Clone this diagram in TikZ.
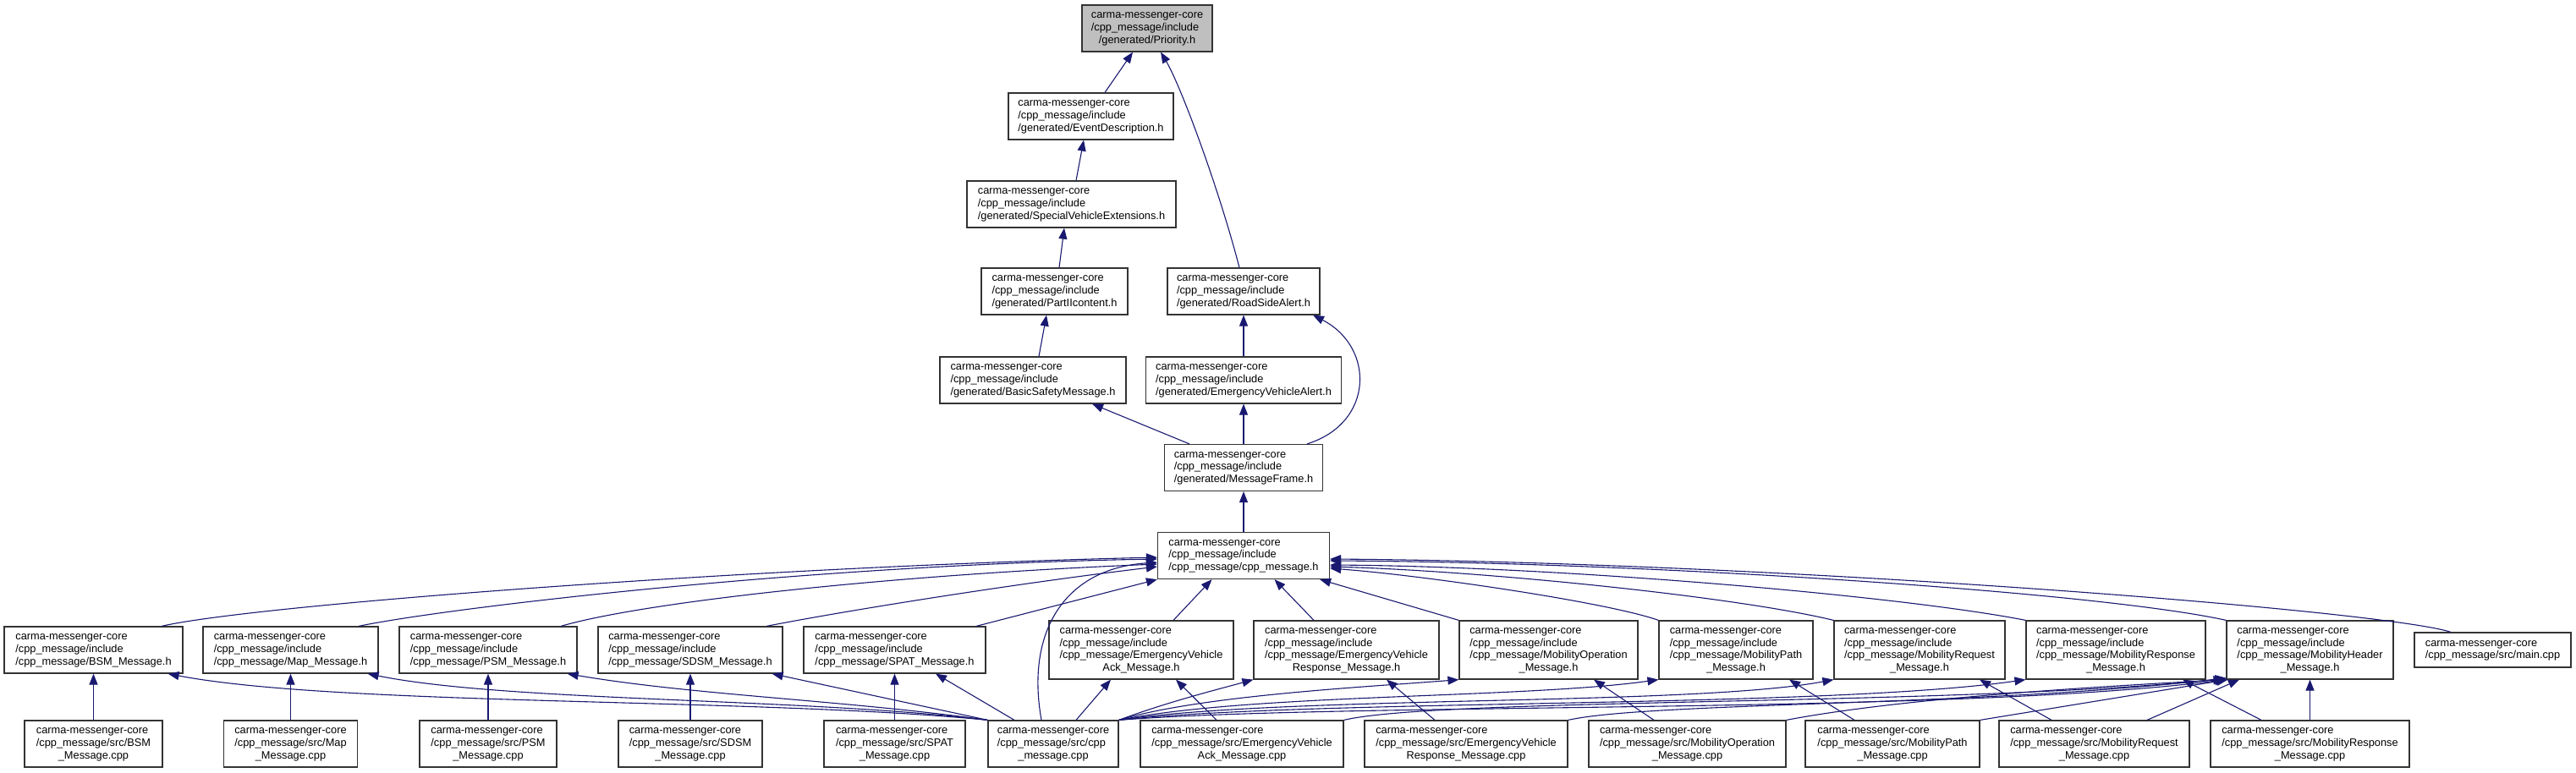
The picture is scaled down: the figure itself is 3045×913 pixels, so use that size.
\documentclass[tikz,border=0pt]{standalone}
\usepackage{fontspec}
\setmainfont{Liberation Sans}
\definecolor{DoxBlue}{RGB}{25,25,112}
\definecolor{DoxGray}{RGB}{191,191,191}
\usetikzlibrary{arrows.meta}
\newcommand{\flbl}[2]{\begin{tabular}{@{}l@{}}#1\\\multicolumn{1}{@{}c@{}}{#2}\end{tabular}}

\begin{document}
\begin{tikzpicture}[x=1pt, y=-1pt,
        file/.style={draw=black!80, fill=white, line width=1.2pt, inner sep=2pt,
                     minimum height=55pt, font=\fontsize{12.8}{14.7}\selectfont},
        tall/.style={file, minimum height=69pt},
        arr/.style={-{Triangle[length=13pt,width=10pt]}, DoxBlue, line width=1.1pt}
      ]
        \useasboundingbox (0,0) rectangle (3045,913);

        \node[file, fill=DoxGray, minimum width=154pt] (priority) at (1356,33.5)
          {\flbl{carma-messenger-core\\/cpp\_message/include}{/generated/Priority.h}};
        \node[file, minimum width=195pt] (evdesc) at (1289.5,137.5)
          {\flbl{carma-messenger-core\\/cpp\_message/include}{/generated/EventDescription.h}};
        \node[file, minimum width=247pt] (specveh) at (1266.5,241.5)
          {\flbl{carma-messenger-core\\/cpp\_message/include}{/generated/SpecialVehicleExtensions.h}};
        \node[file, minimum width=173pt] (partii) at (1246.5,344.5)
          {\flbl{carma-messenger-core\\/cpp\_message/include}{/generated/PartIIcontent.h}};
        \node[file, minimum width=180pt] (rsalert) at (1470,344.5)
          {\flbl{carma-messenger-core\\/cpp\_message/include}{/generated/RoadSideAlert.h}};
        \node[file, minimum width=220pt] (bsafety) at (1221,449.5)
          {\flbl{carma-messenger-core\\/cpp\_message/include}{/generated/BasicSafetyMessage.h}};
        \node[file, minimum width=231pt] (evalert) at (1470,449.5)
          {\flbl{carma-messenger-core\\/cpp\_message/include}{/generated/EmergencyVehicleAlert.h}};
        \node[file, minimum width=187pt] (msgframe) at (1470,553)
          {\flbl{carma-messenger-core\\/cpp\_message/include}{/generated/MessageFrame.h}};
        \node[file, minimum width=203pt] (cpph) at (1470,657)
          {\flbl{carma-messenger-core\\/cpp\_message/include}{/cpp\_message/cpp\_message.h}};

        \node[file, minimum width=211pt] (bsmh) at (110.5,768.5)
          {\flbl{carma-messenger-core\\/cpp\_message/include}{/cpp\_message/BSM\_Message.h}};
        \node[file, minimum width=207pt] (maph) at (343.5,768.5)
          {\flbl{carma-messenger-core\\/cpp\_message/include}{/cpp\_message/Map\_Message.h}};
        \node[file, minimum width=210pt] (psmh) at (577,768.5)
          {\flbl{carma-messenger-core\\/cpp\_message/include}{/cpp\_message/PSM\_Message.h}};
        \node[file, minimum width=218pt] (sdsmh) at (816,768.5)
          {\flbl{carma-messenger-core\\/cpp\_message/include}{/cpp\_message/SDSM\_Message.h}};
        \node[file, minimum width=215pt] (spath) at (1057.5,768.5)
          {\flbl{carma-messenger-core\\/cpp\_message/include}{/cpp\_message/SPAT\_Message.h}};
        \node[tall, minimum width=218pt] (evackh) at (1349,768.5)
          {\flbl{carma-messenger-core\\/cpp\_message/include\\/cpp\_message/EmergencyVehicle}{Ack\_Message.h}};
        \node[tall, minimum width=219pt] (evresph) at (1591.5,768.5)
          {\flbl{carma-messenger-core\\/cpp\_message/include\\/cpp\_message/EmergencyVehicle}{Response\_Message.h}};
        \node[tall, minimum width=211pt] (mobeoph) at (1830.5,768.5)
          {\flbl{carma-messenger-core\\/cpp\_message/include\\/cpp\_message/MobilityOperation}{\_Message.h}};
        \node[tall, minimum width=182pt] (mobpathh) at (2052,768.5)
          {\flbl{carma-messenger-core\\/cpp\_message/include\\/cpp\_message/MobilityPath}{\_Message.h}};
        \node[tall, minimum width=202pt] (mobreqh) at (2269,768.5)
          {\flbl{carma-messenger-core\\/cpp\_message/include\\/cpp\_message/MobilityRequest}{\_Message.h}};
        \node[tall, minimum width=212pt] (mobresph) at (2501,768.5)
          {\flbl{carma-messenger-core\\/cpp\_message/include\\/cpp\_message/MobilityResponse}{\_Message.h}};
        \node[tall, minimum width=197pt] (mobhdrh) at (2730.5,768.5)
          {\flbl{carma-messenger-core\\/cpp\_message/include\\/cpp\_message/MobilityHeader}{\_Message.h}};
        \node[file, minimum width=185pt, minimum height=41pt] (maincpp) at (2946.5,768.5)
          {\flbl{carma-messenger-core}{/cpp\_message/src/main.cpp}};

        \node[file, minimum width=163pt] (bsmcpp) at (110.5,879.5)
          {\flbl{carma-messenger-core\\/cpp\_message/src/BSM}{\_Message.cpp}};
        \node[file, minimum width=158pt] (mapcpp) at (343.5,879.5)
          {\flbl{carma-messenger-core\\/cpp\_message/src/Map}{\_Message.cpp}};
        \node[file, minimum width=162pt] (psmcpp) at (577,879.5)
          {\flbl{carma-messenger-core\\/cpp\_message/src/PSM}{\_Message.cpp}};
        \node[file, minimum width=170pt] (sdsmcpp) at (816,879.5)
          {\flbl{carma-messenger-core\\/cpp\_message/src/SDSM}{\_Message.cpp}};
        \node[file, minimum width=167pt] (spatcpp) at (1057.5,879.5)
          {\flbl{carma-messenger-core\\/cpp\_message/src/SPAT}{\_Message.cpp}};
        \node[file, minimum width=154pt] (cppcpp) at (1245,879.5)
          {\flbl{carma-messenger-core\\/cpp\_message/src/cpp}{\_message.cpp}};
        \node[file, minimum width=240pt] (evackcpp) at (1468,879.5)
          {\flbl{carma-messenger-core\\/cpp\_message/src/EmergencyVehicle}{Ack\_Message.cpp}};
        \node[file, minimum width=240pt] (evrespcpp) at (1733,879.5)
          {\flbl{carma-messenger-core\\/cpp\_message/src/EmergencyVehicle}{Response\_Message.cpp}};
        \node[file, minimum width=233pt] (mobopcpp) at (1994.5,879.5)
          {\flbl{carma-messenger-core\\/cpp\_message/src/MobilityOperation}{\_Message.cpp}};
        \node[file, minimum width=206pt] (mobpathcpp) at (2237,879.5)
          {\flbl{carma-messenger-core\\/cpp\_message/src/MobilityPath}{\_Message.cpp}};
        \node[file, minimum width=225pt] (mobreqcpp) at (2475.5,879.5)
          {\flbl{carma-messenger-core\\/cpp\_message/src/MobilityRequest}{\_Message.cpp}};
        \node[file, minimum width=235pt] (mobrespcpp) at (2730.5,879.5)
          {\flbl{carma-messenger-core\\/cpp\_message/src/MobilityResponse}{\_Message.cpp}};

        \draw[arr] ([xshift=16.5pt]evdesc.north) -- ([xshift=-17pt]priority.south);
        \draw[arr] ([xshift=-5pt]rsalert.north) .. controls (1440,220) and (1395,100) .. ([xshift=16pt]priority.south);
        \draw[arr] ([xshift=5.5pt]specveh.north) -- ([xshift=-8.5pt]evdesc.south);
        \draw[arr] ([xshift=5.5pt]partii.north) -- ([xshift=-8.5pt]specveh.south);
        \draw[arr] ([xshift=7pt]bsafety.north) -- ([xshift=-9.5pt]partii.south);
        \draw[arr] (evalert) -- (rsalert);
        \draw[arr] ([xshift=75pt]msgframe.north) .. controls (1625,500) and (1625,410) .. ([xshift=82pt]rsalert.south);
        \draw[arr] ([xshift=-64pt]msgframe.north) -- ([xshift=70pt]bsafety.south);
        \draw[arr] (msgframe) -- (evalert);
        \draw[arr] (cpph) -- (msgframe);

        \draw[arr] ([xshift=80.5pt]bsmh.north) .. controls (300,715) and (900,670) .. ([yshift=-2pt]cpph.west);
        \draw[arr] ([xshift=80.5pt]maph.north) .. controls (520,720) and (950,668) .. ([yshift=-4pt]cpph.west);
        \draw[arr] ([xshift=86pt]psmh.north) .. controls (760,712) and (1050,680) .. ([yshift=-10pt]cpph.west);
        \draw[arr] ([xshift=90pt]sdsmh.north) .. controls (1000,722) and (1200,690) .. ([yshift=-13pt]cpph.west);
        \draw[arr] ([xshift=96.5pt]spath.north) -- (cpph.south west);
        \draw[arr] ([xshift=-14pt]cppcpp.north) .. controls (1212,745) and (1260,672) .. ([yshift=-8pt]cpph.west);
        \draw[arr] ([xshift=38pt]evackh.north) -- ([xshift=-37.5pt]cpph.south);
        \draw[arr] ([xshift=-38.5pt]evresph.north) -- ([xshift=36.5pt]cpph.south);
        \draw[arr] (mobeoph.north west) -- ([xshift=-12pt]cpph.south east);
        \draw[arr] (mobpathh.north west) .. controls (1900,712) and (1680,680) .. ([yshift=-15pt]cpph.east);
        \draw[arr] (mobreqh.north west) .. controls (2050,705) and (1750,675) .. ([yshift=-13pt]cpph.east);
        \draw[arr] (mobresph.north west) .. controls (2250,705) and (1850,670) .. ([yshift=-11pt]cpph.east);
        \draw[arr] (mobhdrh.north west) .. controls (2480,700) and (1950,665) .. ([yshift=-6pt]cpph.east);
        \draw[arr] ([xshift=-49.5pt]maincpp.north) .. controls (2820,722) and (2100,665) .. ([yshift=-4pt]cpph.east);

        \draw[arr] (bsmcpp) -- (bsmh);
        \draw[arr] (mapcpp) -- (maph);
        \draw[arr] (psmcpp) -- (psmh);
        \draw[arr] (sdsmcpp) -- (sdsmh);
        \draw[arr] (spatcpp) -- (spath);
        \draw[arr] ([xshift=-30pt]evackcpp.north) -- ([xshift=41pt]evackh.south);
        \draw[arr] ([xshift=-37pt]evrespcpp.north) -- ([xshift=47.5pt]evresph.south);
        \draw[arr] ([xshift=-39.5pt]mobopcpp.north) -- ([xshift=53.5pt]mobeoph.south);
        \draw[arr] ([xshift=-45pt]mobpathcpp.north) -- ([xshift=63pt]mobpathh.south);
        \draw[arr] ([xshift=-50.5pt]mobreqcpp.north) -- ([xshift=71pt]mobreqh.south);
        \draw[arr] ([xshift=-57.5pt]mobrespcpp.north) -- ([xshift=79pt]mobresph.south);

        \draw[arr] (cppcpp.north west) .. controls (900,825) and (400,835) .. ([xshift=-18pt]bsmh.south east);
        \draw[arr] (cppcpp.north west) .. controls (950,825) and (600,830) .. ([xshift=-13pt]maph.south east);
        \draw[arr] (cppcpp.north west) .. controls (1000,828) and (820,822) .. ([xshift=-12pt]psmh.south east);
        \draw[arr] (cppcpp.north west) -- ([xshift=-13pt]sdsmh.south east);
        \draw[arr] ([xshift=-46pt]cppcpp.north) -- ([xshift=48.5pt]spath.south);
        \draw[arr] ([xshift=27pt]cppcpp.north) -- ([xshift=-36pt]evackh.south);
        \draw[arr] (cppcpp.north east) .. controls (1380,830) and (1440,815) .. (evresph.south west);
        \draw[arr] (cppcpp.north east) .. controls (1420,822) and (1620,812) .. (mobeoph.south west);
        \draw[arr] (cppcpp.north east) .. controls (1480,820) and (1800,826) .. (mobpathh.south west);
        \draw[arr] (cppcpp.north east) .. controls (1520,822) and (2000,835) .. (mobreqh.south west);
        \draw[arr] (cppcpp.north east) .. controls (1560,826) and (2150,838) .. (mobresph.south west);
        \draw[arr] (cppcpp.north east) .. controls (1600,830) and (2300,845) .. (mobhdrh.south west);

        \draw[arr] (evackcpp.north east) .. controls (1700,825) and (2300,835) .. ([yshift=1pt]mobhdrh.south west);
        \draw[arr] (evrespcpp.north east) .. controls (1950,830) and (2350,835) .. ([yshift=2pt]mobhdrh.south west);
        \draw[arr] (mobopcpp.north east) .. controls (2250,825) and (2480,812) .. ([xshift=-2pt]mobhdrh.south west);
        \draw[arr] (mobpathcpp.north east) -- ([xshift=2pt]mobhdrh.south west);
        \draw[arr] ([xshift=62.5pt]mobreqcpp.north) -- ([xshift=-83.5pt]mobhdrh.south);
        \draw[arr] (mobrespcpp) -- (mobhdrh);
      \end{tikzpicture}
\end{document}
